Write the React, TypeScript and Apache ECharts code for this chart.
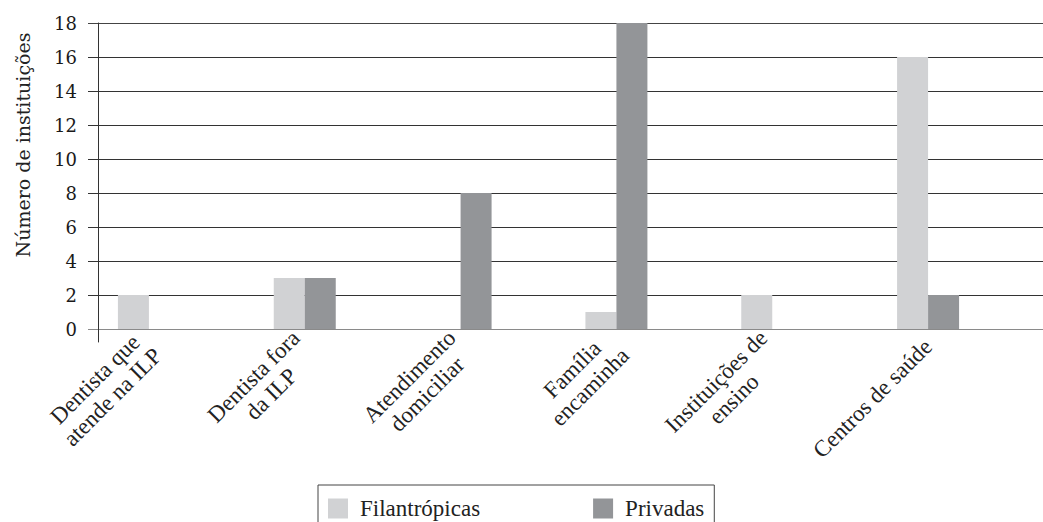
import React, { useEffect, useRef } from 'react';
import * as echarts from 'echarts';

const categories = [
  'Dentista que\natende na ILP',
  'Dentista fora\nda ILP',
  'Atendimento\ndomiciliar',
  'Família\nencaminha',
  'Instituições de\nensino',
  'Centros de saúde',
];
const seriesNames = ['Filantrópicas', 'Privadas'];
const filantropicas = [2, 3, 0, 1, 2, 16];
const privadas = [0, 3, 8, 18, 0, 2];
const yMin = 0;
const yMax = 18;
const yInterval = 2;
const yAxisTitle = 'Número de instituições';

export default function App() {
  const ref = useRef<HTMLDivElement>(null);
  useEffect(() => {
    if (!ref.current) return;
    const chart = echarts.init(ref.current, undefined, { renderer: 'svg' });
    const catFont = 'Liberation Serif';
    chart.setOption({
      animation: false,
      backgroundColor: '#ffffff',
      grid: [
        { left: 71, right: 37, top: 23, height: 306 },
        { left: 88, right: 0, top: 23, height: 306 },
        { left: 98, width: 1, top: 23, height: 319 },
      ],
      xAxis: [
        {
          type: 'category',
          gridIndex: 0,
          data: categories,
          axisLine: { show: false },
          axisTick: { show: false },
          axisLabel: {
            interval: 0,
            rotate: 45,
            margin: 14,
            color: '#222',
            fontFamily: catFont,
            fontSize: 23,
            lineHeight: 25,
            formatter: (v: string) => v.split('\n').map((l) => `{c|${l}}`).join('\n'),
            rich: {
              c: { align: 'center', fontFamily: catFont, fontSize: 23, lineHeight: 25, color: '#222' },
            },
          },
        },
        { type: 'category', gridIndex: 1, data: categories, show: false },
        { type: 'value', gridIndex: 2, min: 0, max: 1, show: false },
      ],
      yAxis: [
        { type: 'value', gridIndex: 0, min: yMin, max: yMax, interval: yInterval, show: false },
        {
          type: 'value',
          gridIndex: 1,
          min: yMin,
          max: yMax,
          interval: yInterval,
          axisLine: { show: false },
          axisTick: { show: false },
          splitLine: {
            show: true,
            lineStyle: {
              color: ['#8a8a8a', '#333', '#333', '#333', '#333', '#333', '#333', '#333', '#333', '#444'],
              width: 1,
            },
          },
          axisLabel: { margin: 11, fontFamily: 'DejaVu Serif', fontSize: 18, color: '#1a1a1a' },
        },
        {
          type: 'value',
          gridIndex: 2,
          min: 0,
          max: 1,
          axisLine: { show: true, onZero: false, lineStyle: { color: '#333', width: 1 } },
          axisTick: { show: false },
          axisLabel: { show: false },
          splitLine: { show: false },
        },
      ],
      legend: {
        left: 318,
        top: 485,
        orient: 'horizontal',
        data: seriesNames,
        icon: 'rect',
        itemWidth: 20,
        itemHeight: 20,
        itemGap: 113,
        padding: [12, 10, 12, 10],
        borderColor: '#444',
        borderWidth: 1,
        selectedMode: false,
        textStyle: { fontFamily: catFont, fontSize: 23, color: '#222', padding: [0, 0, 0, 7] },
      },
      graphic: [
        {
          type: 'text',
          x: 23,
          y: 145,
          rotation: Math.PI / 2,
          style: {
            text: yAxisTitle,
            font: '19px "DejaVu Serif"',
            fill: '#222',
            align: 'center',
            verticalAlign: 'middle',
          },
        },
      ],
      series: [
        {
          type: 'bar',
          name: seriesNames[0],
          xAxisIndex: 0,
          yAxisIndex: 0,
          data: filantropicas,
          barWidth: 31,
          barGap: '0%',
          itemStyle: { color: '#d1d2d4' },
        },
        {
          type: 'bar',
          name: seriesNames[1],
          xAxisIndex: 0,
          yAxisIndex: 0,
          data: privadas,
          barWidth: 31,
          barGap: '0%',
          itemStyle: { color: '#939598' },
        },
      ],
    });
    return () => chart.dispose();
  }, []);
  return (
    <div
      ref={ref}
      style={{ position: 'fixed', left: 0, top: 0, width: 1043, height: 522, background: '#fff' }}
    />
  );
}
